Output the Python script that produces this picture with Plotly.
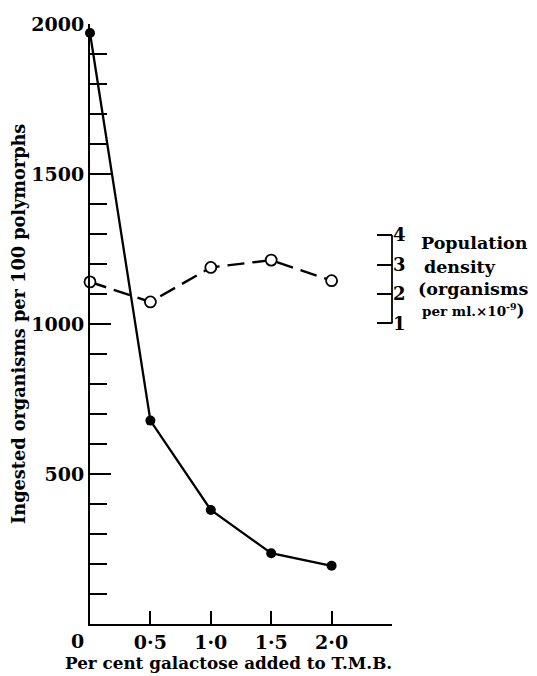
import plotly.graph_objects as go

# ---- data ----
galactose_pct = [0.0, 0.5, 1.0, 1.5, 2.0]
ingested = [1970, 678, 380, 236, 194]
density = [2.41, 1.73, 2.90, 3.15, 2.45]
x_tick_vals = [0.5, 1.0, 1.5, 2.0, 2.5]
x_tick_text = ["0·5", "1·0", "1·5", "2·0", " "]
y_tick_vals = [500, 1000, 1500, 2000]
y_tick_text = ["500", "1000", "1500", "2000"]
density_ticks = [1, 2, 3, 4]

# page body has an 8px margin; figure is placed at (8, 8)
OFF = 8
W, H = 537 - OFF, 676 - OFF
PLOT_L, PLOT_R, PLOT_T, PLOT_B = 90, 392, 24, 624   # screen pixels
L, T = PLOT_L - OFF, PLOT_T - OFF
pw, ph = PLOT_R - PLOT_L, PLOT_B - PLOT_T
R, B = W - L - pw, H - T - ph

FONT = "DejaVu Serif"

def px_x(p):
    return (p - PLOT_L) / pw

def px_y(p):
    return (PLOT_B - p) / ph

fig = go.Figure()
fig.add_trace(go.Scatter(
    x=galactose_pct, y=ingested, mode="lines+markers",
    line=dict(color="black", width=2.3),
    marker=dict(size=10, color="black", line=dict(width=0)),
    cliponaxis=False, showlegend=False))
fig.add_trace(go.Scatter(
    x=galactose_pct, y=density, mode="lines+markers", yaxis="y2",
    line=dict(color="black", width=2.4, dash="17px,8px"),
    marker=dict(size=11, color="white", line=dict(width=1.8, color="black")),
    cliponaxis=False, showlegend=False))

tick_font = dict(family=FONT, size=19, weight="bold", color="black")
fig.update_layout(
    width=W, height=H,
    margin=dict(l=L, r=R, t=T, b=B, autoexpand=False),
    paper_bgcolor="white", plot_bgcolor="white",
    font=dict(family=FONT, size=17, color="black"),
    xaxis=dict(range=[0, 2.5], tickvals=x_tick_vals, ticktext=x_tick_text,
               ticks="inside", ticklen=13, tickwidth=1.5, tickcolor="black",
               showline=True, linecolor="black", linewidth=2,
               showgrid=False, zeroline=False, automargin=False,
               tickfont=tick_font),
    yaxis=dict(range=[0, 2000], tickvals=y_tick_vals, ticktext=y_tick_text,
               ticks="inside", ticklen=21, tickwidth=1.8, tickcolor="black",
               minor=dict(dtick=100, ticks="inside", ticklen=17, tickwidth=1.5,
                          tickcolor="black", showgrid=False),
               showline=True, linecolor="black", linewidth=2,
               showgrid=False, zeroline=False, automargin=False,
               tickfont=tick_font),
    yaxis2=dict(overlaying="y", side="right", range=[-9.21, 11.17],
                tickvals=density_ticks, ticktext=[str(v) for v in density_ticks],
                ticks="inside", ticklen=15, tickwidth=1.5, tickcolor="black",
                showline=False, showgrid=False, zeroline=False, automargin=False,
                tickfont=dict(family=FONT, size=18, weight="bold", color="black")),
)

# bracket line of the density scale
fig.add_shape(type="line", xref="paper", yref="y2", x0=1, x1=1,
              y0=min(density_ticks), y1=max(density_ticks),
              line=dict(color="black", width=1.8))

def bold(size):
    return dict(family=FONT, size=size, color="black", weight="bold")

# axis titles
fig.add_annotation(text="Ingested organisms per 100 polymorphs", textangle=-90,
                   xref="paper", yref="paper", x=px_x(18), y=0.5,
                   xanchor="center", yanchor="middle", showarrow=False, font=bold(17.7))
fig.add_annotation(text="Per cent galactose added to T.M.B.",
                   xref="paper", yref="paper", x=px_x(228), y=px_y(663),
                   xanchor="center", yanchor="middle", showarrow=False, font=bold(16.8))
fig.add_annotation(text="0", xref="paper", yref="paper", x=px_x(77), y=px_y(641),
                   xanchor="center", yanchor="middle", showarrow=False, font=bold(19))

# density label block
last_line = ("per ml.×10<sup>-9</sup>"
             "<span style='font-size:17px'>)</span>")
for txt, xl, yc, sz in [("Population", 419, 243, 17.5), ("density", 422, 267, 17.5),
                        ("(organisms", 416, 289, 17.5),
                        (last_line, 420, 310, 13.5)]:
    fig.add_annotation(text=txt, xref="paper", yref="paper", x=px_x(xl), y=px_y(yc),
                       xanchor="left", yanchor="middle", showarrow=False, font=bold(sz))

fig.write_html("out.html")
